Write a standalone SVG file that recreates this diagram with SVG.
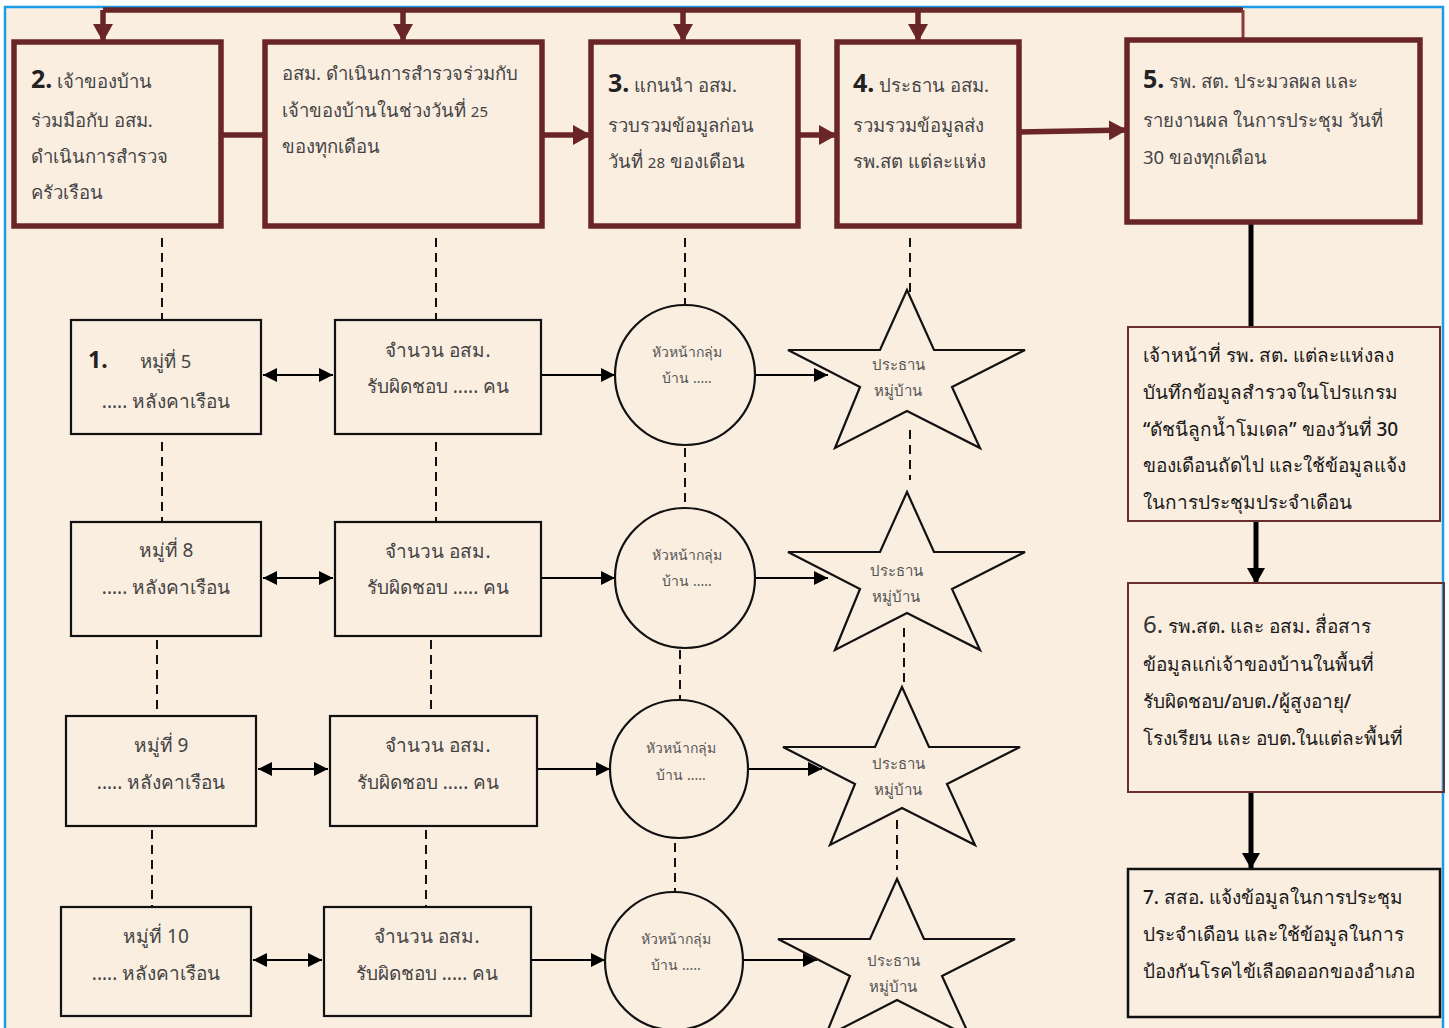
<svg xmlns="http://www.w3.org/2000/svg" width="1449" height="1028" viewBox="0 0 1449 1028">
<style>
text{font-family:"Noto Sans","DejaVu Sans",sans-serif;}
.tb{fill:none;stroke:#6A2626;stroke-width:5.5;}
.tt{font-size:18.5px;fill:#444;}
.num{font-size:25px;font-weight:bold;fill:#222;}
.lb{fill:none;stroke:#111;stroke-width:2.2;}
.lt{font-size:19px;fill:#444;text-anchor:middle;}
.ct{font-size:14px;fill:#555;text-anchor:middle;}
.st{font-size:15px;fill:#555;text-anchor:middle;}
.rb{fill:none;stroke:#6A2E2E;stroke-width:2;}
.rt{font-size:19px;fill:#1a1a1a;font-weight:500;}
.dash{fill:none;stroke:#111;stroke-width:2;stroke-dasharray:9,6;}
.red{fill:none;stroke:#6A2626;stroke-width:5.5;}
.blk{fill:none;stroke:#000;stroke-width:2;}
.blkw{fill:none;stroke:#000;stroke-width:5;}
</style>
<defs>
<marker id="ra" markerUnits="userSpaceOnUse" markerWidth="22" markerHeight="22" refX="18" refY="10" orient="auto"><path d="M0,0 L18,10 L0,20 Z" fill="#6A2626"/></marker>
<marker id="ba" markerUnits="userSpaceOnUse" markerWidth="16" markerHeight="16" refX="14" refY="7" orient="auto"><path d="M0,0 L14,7 L0,14 Z" fill="#000"/></marker>
<marker id="bs" markerUnits="userSpaceOnUse" markerWidth="16" markerHeight="16" refX="0" refY="7" orient="auto"><path d="M14,0 L0,7 L14,14 Z" fill="#000"/></marker>
<marker id="bb" markerUnits="userSpaceOnUse" markerWidth="20" markerHeight="20" refX="16" refY="9" orient="auto"><path d="M0,0 L16,9 L0,18 Z" fill="#000"/></marker>
<polygon id="star" points="0,0 27,60 118,60 45,97 73,158 0,121 -72,158 -47,97 -119,60 -27,60" fill="none" stroke="#111" stroke-width="2.2"/>
</defs>
<rect x="0" y="0" width="1449" height="1028" fill="#fff"/>
<rect x="5" y="7" width="1438" height="1040" fill="#FAEEE1" stroke="#1E9BE8" stroke-width="2.5"/>

<g id="connectors">
<polyline class="red" points="103,10 1243,10"/>
<line x1="1243" y1="10" x2="1243" y2="40" stroke="#8B3A3A" stroke-width="3"/>
<line class="red" x1="103" y1="10" x2="103" y2="42" marker-end="url(#ra)"/>
<line class="red" x1="403" y1="10" x2="403" y2="42" marker-end="url(#ra)"/>
<line class="red" x1="683" y1="10" x2="683" y2="42" marker-end="url(#ra)"/>
<line class="red" x1="918" y1="10" x2="918" y2="42" marker-end="url(#ra)"/>
<line class="red" x1="221" y1="135" x2="265" y2="135"/>
<line class="red" x1="542" y1="135" x2="591" y2="135" marker-end="url(#ra)"/>
<line class="red" x1="798" y1="135" x2="837" y2="135" marker-end="url(#ra)"/>
<line class="red" x1="1019" y1="132" x2="1127" y2="130" marker-end="url(#ra)"/>
<line class="blkw" x1="1251" y1="222" x2="1251" y2="328"/>
<line class="blkw" x1="1256" y1="521" x2="1256" y2="584" marker-end="url(#bb)"/>
<line class="blkw" x1="1251" y1="792" x2="1251" y2="869" marker-end="url(#bb)"/>
<line class="dash" x1="162" y1="238" x2="162" y2="320"/>
<line class="dash" x1="436" y1="238" x2="436" y2="320"/>
<line class="dash" x1="685" y1="238" x2="685" y2="305"/>
<line class="dash" x1="910" y1="238" x2="910" y2="292"/>
<line class="dash" x1="162" y1="442" x2="162" y2="522"/>
<line class="dash" x1="436" y1="442" x2="436" y2="522"/>
<line class="dash" x1="685" y1="448" x2="685" y2="507"/>
<line class="dash" x1="910" y1="430" x2="910" y2="480"/>
<line class="dash" x1="157" y1="640" x2="157" y2="716"/>
<line class="dash" x1="431" y1="640" x2="431" y2="716"/>
<line class="dash" x1="680" y1="650" x2="680" y2="700"/>
<line class="dash" x1="904" y1="628" x2="904" y2="682"/>
<line class="dash" x1="152" y1="830" x2="152" y2="907"/>
<line class="dash" x1="426" y1="830" x2="426" y2="907"/>
<line class="dash" x1="675" y1="843" x2="675" y2="892"/>
<line class="dash" x1="897" y1="820" x2="897" y2="870"/>
<line class="blk" x1="263" y1="375" x2="333" y2="375" marker-start="url(#bs)" marker-end="url(#ba)"/>
<line class="blk" x1="541" y1="375" x2="615" y2="375" marker-end="url(#ba)"/>
<line class="blk" x1="754" y1="375" x2="828" y2="375" marker-end="url(#ba)"/>
<line class="blk" x1="263" y1="578" x2="333" y2="578" marker-start="url(#bs)" marker-end="url(#ba)"/>
<line class="blk" x1="541" y1="578" x2="615" y2="578" marker-end="url(#ba)"/>
<line class="blk" x1="754" y1="578" x2="828" y2="578" marker-end="url(#ba)"/>
<line class="blk" x1="258" y1="769" x2="328" y2="769" marker-start="url(#bs)" marker-end="url(#ba)"/>
<line class="blk" x1="537" y1="769" x2="610" y2="769" marker-end="url(#ba)"/>
<line class="blk" x1="748" y1="769" x2="822" y2="769" marker-end="url(#ba)"/>
<line class="blk" x1="253" y1="960" x2="322" y2="960" marker-start="url(#bs)" marker-end="url(#ba)"/>
<line class="blk" x1="531" y1="960" x2="605" y2="960" marker-end="url(#ba)"/>
<line class="blk" x1="743" y1="960" x2="817" y2="960" marker-end="url(#ba)"/>
</g>

<g id="box2">
<rect class="tb" x="14" y="42" width="207" height="184"/>
<text class="tt" x="31" y="88"><tspan class="num">2.</tspan> เจ้าของบ้าน</text>
<text class="tt" x="31" y="127">ร่วมมือกับ อสม.</text>
<text class="tt" x="31" y="163">ดำเนินการสำรวจ</text>
<text class="tt" x="31" y="199">ครัวเรือน</text>
</g>
<g id="boxSurvey">
<rect class="tb" x="265" y="42" width="277" height="184"/>
<text class="tt" x="282" y="80">อสม. ดำเนินการสำรวจร่วมกับ</text>
<text class="tt" x="282" y="117">เจ้าของบ้านในช่วงวันที่ <tspan font-size="15">25</tspan></text>
<text class="tt" x="282" y="153">ของทุกเดือน</text>
</g>
<g id="box3">
<rect class="tb" x="591" y="42" width="207" height="184"/>
<text class="tt" x="608" y="92"><tspan class="num">3.</tspan> แกนนำ อสม.</text>
<text class="tt" x="608" y="132">รวบรวมข้อมูลก่อน</text>
<text class="tt" x="608" y="168">วันที่ <tspan font-size="15">28</tspan> ของเดือน</text>
</g>
<g id="box4">
<rect class="tb" x="837" y="42" width="182" height="184"/>
<text class="tt" x="853" y="92"><tspan class="num">4.</tspan> ประธาน อสม.</text>
<text class="tt" x="853" y="132">รวมรวมข้อมูลส่ง</text>
<text class="tt" x="853" y="168">รพ.สต แต่ละแห่ง</text>
</g>
<g id="box5">
<rect class="tb" x="1127" y="40" width="293" height="182"/>
<text class="tt" x="1143" y="88"><tspan class="num">5.</tspan> รพ. สต. ประมวลผล และ</text>
<text class="tt" x="1143" y="127">รายงานผล ในการประชุม วันที่</text>
<text class="tt" x="1143" y="164">30 ของทุกเดือน</text>
</g>

<g id="village1">
<rect class="lb" x="71" y="320" width="190" height="114"/>
<text class="tt" x="88" y="368" font-size="19"><tspan font-weight="bold" font-size="23" fill="#222">1.</tspan><tspan x="140">หมู่ที่ 5</tspan></text>
<text class="lt" x="166" y="408">..... หลังคาเรือน</text>
</g>
<g id="village2">
<rect class="lb" x="71" y="522" width="190" height="114"/>
<text class="lt" x="166" y="557">หมู่ที่ 8</text>
<text class="lt" x="166" y="594">..... หลังคาเรือน</text>
</g>
<g id="village3">
<rect class="lb" x="66" y="716" width="190" height="110"/>
<text class="lt" x="161" y="752">หมู่ที่ 9</text>
<text class="lt" x="161" y="789">..... หลังคาเรือน</text>
</g>
<g id="village4">
<rect class="lb" x="61" y="907" width="190" height="109"/>
<text class="lt" x="156" y="943">หมู่ที่ 10</text>
<text class="lt" x="156" y="980">..... หลังคาเรือน</text>
</g>

<g id="osm1">
<rect class="lb" x="335" y="320" width="206" height="114"/>
<text class="lt" x="438" y="357">จำนวน อสม.</text>
<text class="lt" x="438" y="393">รับผิดชอบ  ..... คน</text>
</g>
<g id="osm2">
<rect class="lb" x="335" y="522" width="206" height="114"/>
<text class="lt" x="438" y="558">จำนวน อสม.</text>
<text class="lt" x="438" y="594">รับผิดชอบ  ..... คน</text>
</g>
<g id="osm3">
<rect class="lb" x="330" y="716" width="207" height="110"/>
<text class="lt" x="438" y="752">จำนวน อสม.</text>
<text class="lt" x="428" y="789">รับผิดชอบ  ..... คน</text>
</g>
<g id="osm4">
<rect class="lb" x="324" y="907" width="207" height="109"/>
<text class="lt" x="427" y="943">จำนวน อสม.</text>
<text class="lt" x="427" y="980">รับผิดชอบ  ..... คน</text>
</g>

<g id="leader1">
<circle cx="685" cy="375" r="70" fill="none" stroke="#111" stroke-width="2.2"/>
<text class="ct" x="687" y="357">หัวหน้ากลุ่ม</text>
<text class="ct" x="687" y="383">บ้าน .....</text>
</g>
<g id="leader2">
<circle cx="685" cy="578" r="70" fill="none" stroke="#111" stroke-width="2.2"/>
<text class="ct" x="687" y="560">หัวหน้ากลุ่ม</text>
<text class="ct" x="687" y="586">บ้าน .....</text>
</g>
<g id="leader3">
<circle cx="679" cy="769" r="69" fill="none" stroke="#111" stroke-width="2.2"/>
<text class="ct" x="681" y="753">หัวหน้ากลุ่ม</text>
<text class="ct" x="681" y="780">บ้าน .....</text>
</g>
<g id="leader4">
<circle cx="674" cy="961" r="69" fill="none" stroke="#111" stroke-width="2.2"/>
<text class="ct" x="676" y="944">หัวหน้ากลุ่ม</text>
<text class="ct" x="676" y="970">บ้าน .....</text>
</g>

<g id="chief1">
<use href="#star" x="907" y="290"/>
<text class="st" x="898" y="370">ประธาน</text>
<text class="st" x="898" y="396">หมู่บ้าน</text>
</g>
<g id="chief2">
<use href="#star" x="907" y="492"/>
<text class="st" x="896" y="576">ประธาน</text>
<text class="st" x="896" y="602">หมู่บ้าน</text>
</g>
<g id="chief3">
<use href="#star" x="902" y="687"/>
<text class="st" x="898" y="769">ประธาน</text>
<text class="st" x="898" y="795">หมู่บ้าน</text>
</g>
<g id="chief4">
<use href="#star" x="897" y="879"/>
<text class="st" x="893" y="966">ประธาน</text>
<text class="st" x="893" y="992">หมู่บ้าน</text>
</g>

<g id="staff">
<rect class="rb" x="1128" y="327" width="312" height="194"/>
<text class="rt" x="1143" y="362">เจ้าหน้าที่ รพ. สต. แต่ละแห่งลง</text>
<text class="rt" x="1143" y="399">บันทึกข้อมูลสำรวจในโปรแกรม</text>
<text class="rt" x="1143" y="436">“ดัชนีลูกน้ำโมเดล”  ของวันที่ 30</text>
<text class="rt" x="1143" y="472">ของเดือนถัดไป  และใช้ข้อมูลแจ้ง</text>
<text class="rt" x="1143" y="509">ในการประชุมประจำเดือน</text>
</g>
<g id="box6">
<rect class="rb" x="1128" y="583" width="316" height="209"/>
<text class="rt" x="1143" y="633"><tspan font-size="24" font-weight="normal" fill="#333">6.</tspan>  รพ.สต. และ อสม. สื่อสาร</text>
<text class="rt" x="1143" y="671">ข้อมูลแก่เจ้าของบ้านในพื้นที่</text>
<text class="rt" x="1143" y="708">รับผิดชอบ/อบต./ผู้สูงอายุ/</text>
<text class="rt" x="1143" y="745">โรงเรียน และ อบต.ในแต่ละพื้นที่</text>
</g>
<g id="box7">
<rect x="1128" y="869" width="312" height="148" fill="none" stroke="#111" stroke-width="2.5"/>
<text class="rt" x="1143" y="904">7. สสอ.  แจ้งข้อมูลในการประชุม</text>
<text class="rt" x="1143" y="941">ประจำเดือน และใช้ข้อมูลในการ</text>
<text class="rt" x="1143" y="978" textLength="272" lengthAdjust="spacingAndGlyphs">ป้องกันโรคไข้เลือดออกของอำเภอ</text>
</g>
</svg>
